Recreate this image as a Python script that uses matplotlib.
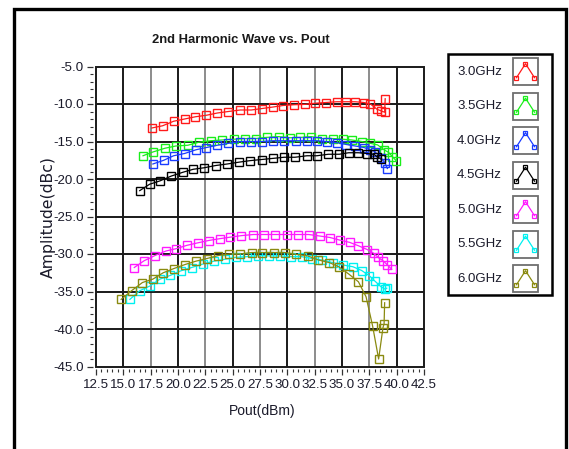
import matplotlib
matplotlib.use("Agg")
import matplotlib.pyplot as plt
from matplotlib.ticker import MultipleLocator, FormatStrFormatter
from matplotlib.patches import Rectangle
import numpy as np

FONT = ['Liberation Sans', 'DejaVu Sans']

# ---------------- data ----------------
labels = ['3.0GHz', '3.5GHz', '4.0GHz', '4.5GHz', '5.0GHz', '5.5GHz', '6.0GHz']
colors = ['#ff1a1a', '#1aee1a', '#1a3cff', '#000000', '#ff1aff', '#00f0f0', '#8a8a10']

red_x = [17.6, 18.6, 19.6, 20.6, 21.6, 22.6, 23.6, 24.6, 25.7, 26.7, 27.7, 28.7, 29.6,
         30.6, 31.6, 32.5, 33.5, 34.5, 35.4, 36.2, 37.0, 37.6, 38.2, 38.55, 38.9, 38.95]
red_y = [-13.2, -12.9, -12.3, -12.0, -11.7, -11.5, -11.2, -11.0, -10.8, -10.8, -10.6, -10.4, -10.2,
         -10.1, -10.05, -9.9, -9.8, -9.7, -9.7, -9.7, -9.8, -10.0, -10.7, -10.9, -11.1, -9.3]

green_x = [16.8, 17.7, 18.8, 19.8, 20.9, 21.9, 23.0, 24.0, 25.1, 26.1, 27.1, 28.1, 29.2, 30.25,
           31.2, 32.2, 33.15, 34.15, 35.1, 35.9, 36.8, 37.6, 38.25, 38.85, 39.25, 39.6, 39.95]
green_y = [-16.9, -16.4, -15.9, -15.6, -15.5, -15.1, -14.9, -14.8, -14.7, -14.6, -14.6, -14.45, -14.35, -14.5,
           -14.45, -14.35, -14.6, -14.6, -14.7, -14.8, -15.0, -15.25, -15.45, -16.1, -16.45, -17.0, -17.55]

blue_x = [17.7, 18.7, 19.6, 20.6, 21.65, 22.6, 23.6, 24.6, 25.7, 26.7, 27.7, 28.7, 29.7, 30.8,
          31.8, 32.7, 33.6, 34.5, 35.4, 36.2, 37.0, 37.6, 38.0, 38.55, 38.95, 39.15]
blue_y = [-18.0, -17.5, -16.9, -16.6, -16.1, -15.8, -15.5, -15.25, -15.0, -15.0, -15.0, -14.9, -14.9, -14.9,
          -14.9, -14.9, -15.0, -15.15, -15.4, -15.6, -15.8, -16.1, -16.35, -17.15, -17.9, -18.6]

black_x = [16.5, 17.4, 18.35, 19.4, 20.45, 21.4, 22.4, 23.45, 24.5, 25.6, 26.6, 27.65, 28.7,
           29.7, 30.7, 31.8, 32.7, 33.75, 34.75, 35.6, 36.5, 37.3, 37.9, 38.2, 38.55]
black_y = [-21.55, -20.7, -20.25, -19.6, -19.1, -18.7, -18.5, -18.2, -18.0, -17.75, -17.55, -17.4, -17.25,
           -17.1, -17.1, -16.9, -16.9, -16.7, -16.7, -16.5, -16.5, -16.6, -16.7, -17.0, -17.35]

magenta_x = [16.0, 16.9, 17.9, 18.9, 19.8, 20.8, 21.85, 22.8, 23.85, 24.8, 25.8, 26.9, 27.9, 28.9,
             29.95, 30.95, 31.95, 32.95, 33.9, 34.8, 35.7, 36.5, 37.3, 37.9, 38.3, 38.75, 39.15, 39.55]
magenta_y = [-31.8, -30.9, -30.2, -29.6, -29.3, -28.85, -28.5, -28.2, -27.95, -27.75, -27.55, -27.4, -27.4, -27.4,
             -27.4, -27.4, -27.4, -27.6, -27.8, -28.15, -28.45, -28.9, -29.4, -29.9, -30.45, -30.9, -31.45, -32.05]

cyan_x = [15.6, 16.5, 17.45, 18.35, 19.3, 20.25, 21.25, 22.25, 23.3, 24.3, 25.3, 26.3, 27.35, 28.35,
          29.35, 30.3, 31.3, 32.25, 33.2, 34.15, 35.05, 36.0, 36.8, 37.5, 38.0, 38.55, 38.95, 39.1]
cyan_y = [-36.05, -34.9, -34.25, -33.35, -32.85, -32.25, -31.8, -31.35, -30.95, -30.7, -30.45, -30.35, -30.2, -30.25,
          -30.25, -30.35, -30.35, -30.6, -30.8, -31.15, -31.45, -31.7, -32.2, -32.9, -33.6, -34.35, -34.7, -34.55]

olive_x = [14.8, 15.75, 16.75, 17.7, 18.65, 19.6, 20.65, 21.65, 22.65, 23.7, 24.7, 25.7, 26.75, 27.7,
           28.8, 29.8, 30.8, 31.85, 32.85, 33.85, 34.7, 35.6, 36.5, 37.2, 37.8, 38.35, 38.75, 38.85, 38.9]
olive_y = [-36.05, -34.9, -33.8, -33.35, -32.5, -31.95, -31.4, -30.95, -30.6, -30.2, -30.0, -30.0, -29.8, -29.8,
           -29.8, -29.8, -30.05, -30.25, -30.8, -31.15, -31.7, -32.65, -33.7, -35.7, -39.6, -44.0, -39.8, -39.3, -36.5]

series_x = [red_x, green_x, blue_x, black_x, magenta_x, cyan_x, olive_x]
series_y = [red_y, green_y, blue_y, black_y, magenta_y, cyan_y, olive_y]

title = '2nd Harmonic Wave vs. Pout'
xlabel = 'Pout(dBm)'
ylabel = 'Amplitude(dBc)'

# ---------------- figure ----------------
W, H = 569, 449
fig = plt.figure(figsize=(W / 100, H / 100), dpi=100)
fig.patch.set_facecolor('white')

ax_l, ax_r, ax_t, ax_b = 96, 424, 66.5, 366.5
ax = fig.add_axes([ax_l / W, (H - ax_b) / H, (ax_r - ax_l) / W, (ax_b - ax_t) / H])
ax.set_xlim(12.5, 42.5)
ax.set_ylim(-45, -5)

# grid
for v in np.arange(15.0, 42.5, 2.5):
    c = '#1a1a1a' if abs(v % 5) < 1e-9 else '#8c8c8c'
    ax.axvline(v, color=c, lw=1.4, zorder=1)
for v in np.arange(-40.0, -5.0, 5.0):
    ax.axhline(v, color='#1a1a1a', lw=1.4, zorder=1)

for xs, ys, c in zip(series_x, series_y, colors):
    ax.plot(xs, ys, color=c, lw=0.9, marker='s', markersize=5.2,
            markerfacecolor='none', markeredgecolor=c, markeredgewidth=1.0, zorder=3)

# frame with ticks detached from it
for s in ax.spines.values():
    s.set_visible(False)
ax.spines['left'].set_position(('outward', 2))
ax.spines['bottom'].set_position(('outward', 2))
ax.add_patch(Rectangle((0, 0), 1, 1, transform=ax.transAxes, fill=False,
                       edgecolor='#1a1a1a', lw=1.4, zorder=5, clip_on=False))

ax.xaxis.set_major_locator(MultipleLocator(2.5))
ax.xaxis.set_minor_locator(MultipleLocator(0.5))
ax.yaxis.set_major_locator(MultipleLocator(5))
ax.yaxis.set_minor_locator(MultipleLocator(1))
ax.xaxis.set_major_formatter(FormatStrFormatter('%.1f'))
ax.yaxis.set_major_formatter(FormatStrFormatter('%.1f'))
ax.tick_params(which='major', direction='out', length=4, width=0.9, color='#333333',
               labelsize=9.6, labelcolor='#1a1a2a', pad=3)
ax.tick_params(which='minor', direction='out', length=2.5, width=0.8, color='#333333')
for lab in ax.get_xticklabels() + ax.get_yticklabels():
    lab.set_family(FONT)

ax.set_xlabel(xlabel, family=FONT, fontsize=10, color='#1a1a2a', va='top')
ax.xaxis.set_label_coords((262.5 - ax_l) / (ax_r - ax_l), -(404 - ax_b) / (ax_b - ax_t))
ax.set_ylabel(ylabel, family='DejaVu Sans', fontsize=11.3, color='#1a1a2a')
ax.yaxis.set_label_coords(-(ax_l - 56) / (ax_r - ax_l), 0.5)
fig.text(241 / W, 1 - 40 / H, title, family=FONT, fontsize=9.4, fontweight='bold',
         ha='center', va='center', color='#1a1a1a')

# ---------------- overlay: outer frame and legend ----------------
ov = fig.add_axes([0, 0, 1, 1], zorder=10)
ov.set_xlim(0, W)
ov.set_ylim(H, 0)
ov.axis('off')
ov.patch.set_alpha(0)
ov.plot([14, 14, 566, 566], [H + 5, 8.5, 8.5, H + 5], color='black', lw=2.4,
        solid_joinstyle='miter', clip_on=False)

ov.add_patch(Rectangle((448, 54), 104, 241, fill=True, facecolor='white',
                       edgecolor='black', lw=1.8))
row0, dy = 71.7, 34.5
for i, (lab, c) in enumerate(zip(labels, colors)):
    yc = row0 + i * dy
    ov.text(502, yc, lab, family=FONT, fontsize=9.5, ha='right', va='center',
            color='#1a1a2a')
    ov.add_patch(Rectangle((513, yc - 13.5), 25, 27, fill=True, facecolor='white',
                           edgecolor='#6e6e6e', lw=1.3))
    gx = [516.5, 525.5, 534.5]
    gy = [yc + 6, yc - 8, yc + 6]
    ov.plot(gx, gy, color=c, lw=0.9)
    ov.plot(gx, gy, ls='none', marker='s', markersize=2.6, markerfacecolor='none',
            markeredgecolor=c, markeredgewidth=0.9)

fig.savefig('out.png', dpi=100)
